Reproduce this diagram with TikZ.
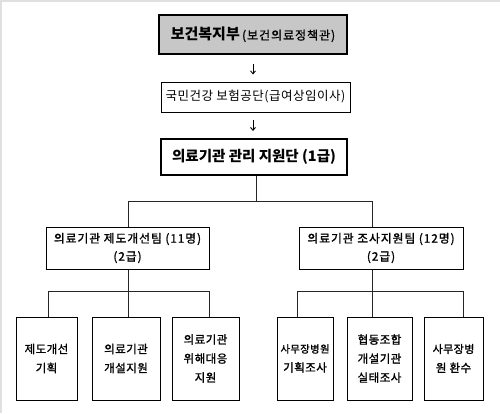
\documentclass[tikz,border=0pt]{standalone}
\usepackage{fontspec}
\setmainfont{Noto Sans CJK KR}
\newfontfamily\krsemi{Noto Sans CJK KR}[FakeBold=1.3]
\usetikzlibrary{arrows.meta}
\begin{document}
\begin{tikzpicture}[x=1pt,y=-1pt,
  box/.style={draw=black, line width=1pt, inner sep=0pt, align=center,
    font=\krsemi\fontsize{11.8}{18}\selectfont\addfontfeature{LetterSpace=8}},
  heavybox/.style={box, line width=2pt},
  leaf/.style={box, minimum height=83pt, font=\krsemi\fontsize{11.5}{19}\selectfont\addfontfeature{LetterSpace=4}},
  link/.style={draw=black!85, line width=0.9pt},
  arr/.style={-{Straight Barb[length=3pt,width=5pt]}, line width=0.9pt},
  frame/.style={draw=black!12, line width=1.2pt}
]
\useasboundingbox (0,0) rectangle (500,413);
\draw[frame] (0,1) -- (500,1);
\draw[frame] (1,0) -- (1,413);

\node[heavybox, fill=black!22, minimum width=188pt, minimum height=39pt, font=\normalfont] (top) at (253,34.5)
  {{\bfseries\fontsize{15}{17}\selectfont 보건복지부}\ {\krsemi\fontsize{12}{15}\selectfont\addfontfeature{LetterSpace=8}(보건의료정책관)}};
\node[box, minimum width=189pt, minimum height=30pt, font=\normalfont\fontsize{12.5}{14}\selectfont\addfontfeature{LetterSpace=4}] (adm) at (255.5,97)
  {국민건강 보험공단(급여상임이사)};
\node[heavybox, minimum width=186pt, minimum height=36pt, font=\normalfont\bfseries\fontsize{14.5}{16}\selectfont] (hq) at (254,157)
  {의료기관 관리 지원단 (1급)};

\node[box, minimum width=163pt, minimum height=42pt] (teamL) at (127.5,248)
  {의료기관 제도개선팀 (11명)\\(2급)};
\node[box, minimum width=164pt, minimum height=42pt] (teamR) at (381,248)
  {의료기관 조사지원팀 (12명)\\(2급)};

\node[leaf, minimum width=61pt] (l1) at (46.5,358.5) {제도개선\\기획};
\node[leaf, minimum width=68pt] (l2) at (126,358.5) {의료기관\\개설지원};
\node[leaf, minimum width=67pt] (l3) at (205.5,358.5) {의료기관\\위해대응\\지원};
\node[leaf, minimum width=56pt] (r1) at (305,358.5) {{\fontsize{10.3}{19}\selectfont 사무장병원}\\기획조사};
\node[leaf, minimum width=65pt] (r2) at (379.5,358.5) {협동조합\\개설기관\\실태조사};
\node[leaf, minimum width=59pt] (r3) at (453.5,358.5) {{\fontsize{11}{19}\selectfont 사무장병}\\원 환수};

% arrows
\draw[arr, shorten <=9pt, shorten >=7pt] (top.south) -- (top.south |- adm.north);
\draw[arr, shorten <=7pt, shorten >=7pt] (top.south |- adm.south) -- (top.south |- hq.north);

% level 1 bar
\coordinate (tm) at (256,201);
\coordinate (t1) at (128,201);
\coordinate (t2) at (372,201);
\draw[link] (tm |- hq.south) -- (tm);
\draw[link] (t1 |- teamL.north) -- (t1) -- (t2) -- (t2 |- teamR.north);

% left bar
\coordinate (a1) at (48,291);
\coordinate (a2) at (128,291);
\coordinate (a3) at (209,291);
\draw[link] (a2 |- teamL.south) -- (a2);
\draw[link] (a1 |- l1.north) -- (a1) -- (a3) -- (a3 |- l3.north);
\draw[link] (a2) -- (a2 |- l2.north);

% right bar
\coordinate (b1) at (297,291);
\coordinate (b2) at (372,291);
\coordinate (b3) at (463,291);
\draw[link] (b2 |- teamR.south) -- (b2);
\draw[link] (b1 |- r1.north) -- (b1) -- (b3) -- (b3 |- r3.north);
\draw[link] (b2) -- (b2 |- r2.north);
\end{tikzpicture}
\end{document}
